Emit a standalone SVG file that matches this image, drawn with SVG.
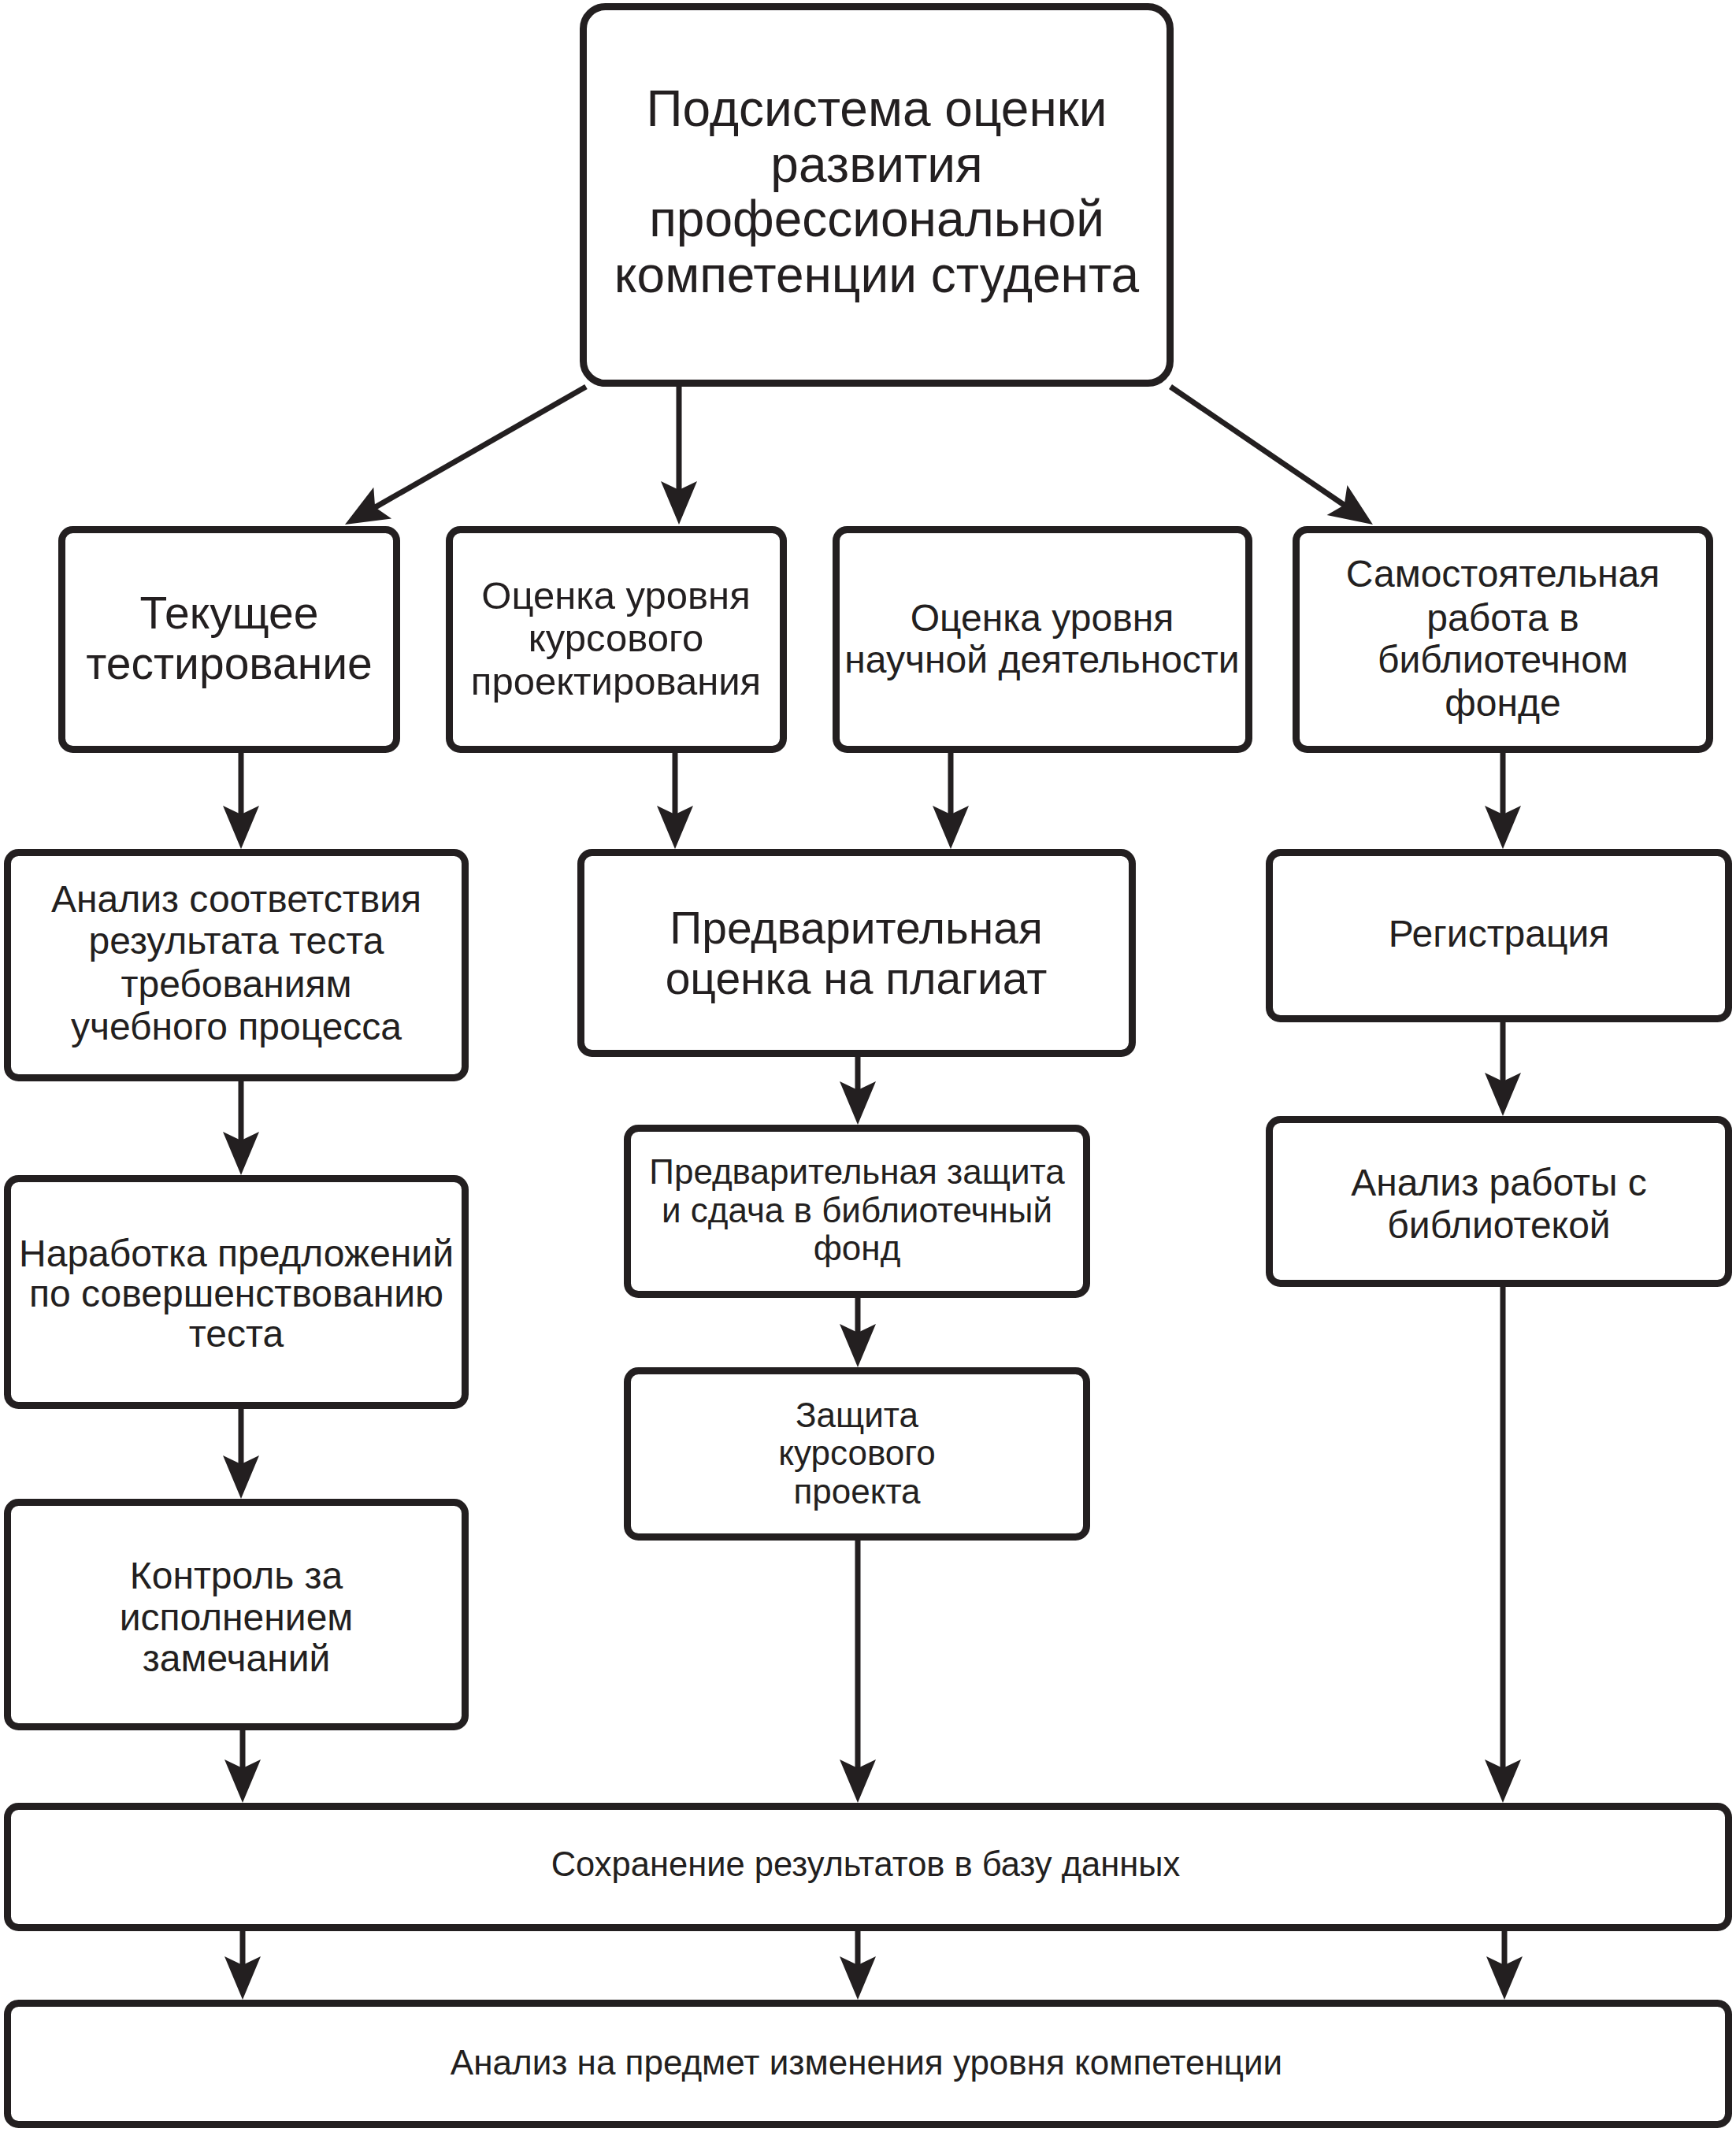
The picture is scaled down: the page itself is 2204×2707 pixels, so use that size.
<svg xmlns="http://www.w3.org/2000/svg" width="2204" height="2707" viewBox="0 0 2204 2707">
<defs>
<style>
.box{fill:#fff;stroke:#231f20;stroke-width:9}
.t{font-family:"Liberation Sans",Arial,sans-serif;fill:#231f20;text-anchor:middle;dominant-baseline:central}
.c{stroke:#231f20;stroke-width:7;fill:none;marker-end:url(#ah)}
</style>
<marker id="ah" viewBox="-20 -26 66 52" refX="0" refY="0" markerWidth="66" markerHeight="52" markerUnits="userSpaceOnUse" orient="auto">
<path d="M40,0 L-15,-23 L-4,0 L-15,23 Z" fill="#231f20"/>
</marker>
</defs>
<rect width="2204" height="2707" fill="#fff"/>
<g id="connectors">
<line class="c" x1="744" y1="491" x2="472.7" y2="646.1"/>
<line class="c" x1="862" y1="491" x2="862" y2="626"/>
<line class="c" x1="1486" y1="491" x2="1709.9" y2="643.5"/>
<line class="c" x1="306" y1="956" x2="306" y2="1038"/>
<line class="c" x1="857" y1="956" x2="857" y2="1038"/>
<line class="c" x1="1207" y1="956" x2="1207" y2="1038"/>
<line class="c" x1="1908" y1="956" x2="1908" y2="1038"/>
<line class="c" x1="306" y1="1373" x2="306" y2="1452"/>
<line class="c" x1="1089" y1="1342" x2="1089" y2="1388"/>
<line class="c" x1="1908" y1="1298" x2="1908" y2="1377"/>
<line class="c" x1="306" y1="1789" x2="306" y2="1863"/>
<line class="c" x1="1089" y1="1648" x2="1089" y2="1696"/>
<line class="c" x1="308" y1="2197" x2="308" y2="2249"/>
<line class="c" x1="1089" y1="1956" x2="1089" y2="2249"/>
<line class="c" x1="1908" y1="1634" x2="1908" y2="2249"/>
<line class="c" x1="308" y1="2452" x2="308" y2="2499"/>
<line class="c" x1="1089" y1="2452" x2="1089" y2="2499"/>
<line class="c" x1="1910" y1="2452" x2="1910" y2="2499"/>
</g>
<g id="n0">
<rect class="box" x="740.5" y="8.5" width="745" height="478" rx="28"/>
<text class="t" font-size="64" x="1113" y="138">Подсистема оценки</text>
<text class="t" font-size="64" x="1113" y="209">развития</text>
<text class="t" font-size="64" x="1113" y="278">профессиональной</text>
<text class="t" font-size="64" x="1113" y="349">компетенции студента</text>
</g>
<g id="n1">
<rect class="box" x="78.5" y="672.5" width="425" height="279" rx="14"/>
<text class="t" font-size="57" x="291" y="778">Текущее</text>
<text class="t" font-size="57" x="291" y="842">тестирование</text>
</g>
<g id="n2">
<rect class="box" x="570.5" y="672.5" width="424" height="279" rx="14"/>
<text class="t" font-size="49" x="782" y="756">Оценка уровня</text>
<text class="t" font-size="49" x="782" y="810">курсового</text>
<text class="t" font-size="49" x="782" y="865">проектирования</text>
</g>
<g id="n3">
<rect class="box" x="1061.5" y="672.5" width="524" height="279" rx="14"/>
<text class="t" font-size="48" x="1323" y="784">Оценка уровня</text>
<text class="t" font-size="48" x="1323" y="837">научной деятельности</text>
</g>
<g id="n4">
<rect class="box" x="1645.5" y="672.5" width="525" height="279" rx="14"/>
<text class="t" font-size="48" x="1908" y="728">Самостоятельная</text>
<text class="t" font-size="48" x="1908" y="784">работа в</text>
<text class="t" font-size="48" x="1908" y="837">библиотечном</text>
<text class="t" font-size="48" x="1908" y="892">фонде</text>
</g>
<g id="n5">
<rect class="box" x="9.5" y="1082.5" width="581" height="286" rx="14"/>
<text class="t" font-size="48" x="300" y="1141">Анализ соответствия</text>
<text class="t" font-size="48" x="300" y="1194">результата теста</text>
<text class="t" font-size="48" x="300" y="1249">требованиям</text>
<text class="t" font-size="48" x="300" y="1303">учебного процесса</text>
</g>
<g id="n6">
<rect class="box" x="737.5" y="1082.5" width="700" height="255" rx="14"/>
<text class="t" font-size="57" x="1087" y="1178">Предварительная</text>
<text class="t" font-size="57" x="1087" y="1242">оценка на плагиат</text>
</g>
<g id="n7">
<rect class="box" x="1611.5" y="1082.5" width="583" height="211" rx="14"/>
<text class="t" font-size="48" x="1903" y="1185">Регистрация</text>
</g>
<g id="n8">
<rect class="box" x="9.5" y="1496.5" width="581" height="288" rx="14"/>
<text class="t" font-size="48" x="300" y="1591">Наработка предложений</text>
<text class="t" font-size="48" x="300" y="1642">по совершенствованию</text>
<text class="t" font-size="48" x="300" y="1693">теста</text>
</g>
<g id="n9">
<rect class="box" x="796.5" y="1432.5" width="583" height="211" rx="14"/>
<text class="t" font-size="44" x="1088" y="1487">Предварительная защита</text>
<text class="t" font-size="44" x="1088" y="1536">и сдача в библиотечный</text>
<text class="t" font-size="44" x="1088" y="1584">фонд</text>
</g>
<g id="n10">
<rect class="box" x="1611.5" y="1421.5" width="583" height="208" rx="14"/>
<text class="t" font-size="48" x="1903" y="1501">Анализ работы с</text>
<text class="t" font-size="48" x="1903" y="1555">библиотекой</text>
</g>
<g id="n11">
<rect class="box" x="796.5" y="1740.5" width="583" height="211" rx="14"/>
<text class="t" font-size="44" x="1088" y="1796">Защита</text>
<text class="t" font-size="44" x="1088" y="1844">курсового</text>
<text class="t" font-size="44" x="1088" y="1893">проекта</text>
</g>
<g id="n12">
<rect class="box" x="9.5" y="1907.5" width="581" height="285" rx="14"/>
<text class="t" font-size="48" x="300" y="2000">Контроль за</text>
<text class="t" font-size="48" x="300" y="2053">исполнением</text>
<text class="t" font-size="48" x="300" y="2105">замечаний</text>
</g>
<g id="n13">
<rect class="box" x="9.5" y="2293.5" width="2185" height="154" rx="14"/>
<text class="t" font-size="43.5" x="1099" y="2367">Сохранение результатов в базу данных</text>
</g>
<g id="n14">
<rect class="box" x="9.5" y="2543.5" width="2185" height="154" rx="14"/>
<text class="t" font-size="44" x="1100" y="2618">Анализ на предмет изменения уровня компетенции</text>
</g>
</svg>
